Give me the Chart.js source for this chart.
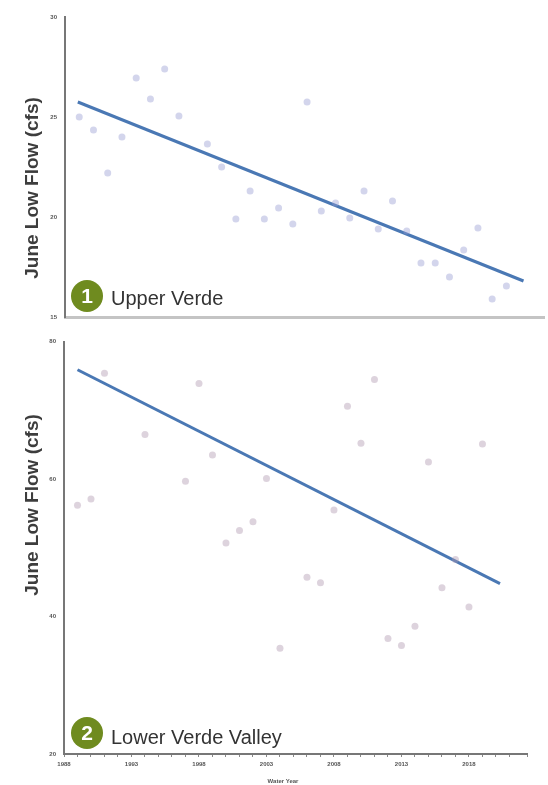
<!DOCTYPE html>
<html>
<head>
<meta charset="utf-8">
<script src="https://cdn.jsdelivr.net/npm/chart.js@4/dist/chart.umd.min.js"></script>
<style>
  body { margin: 0; background: #fff; }
  #wrap { position: relative; width: 548px; height: 785px; }
  #upper { position: absolute; left: 0; top: 0; }
  #lower { position: absolute; left: 0; top: 330px; }
</style>
</head>
<body>
<div id="wrap">
  <canvas id="upper" width="548" height="330"></canvas>
  <canvas id="lower" width="548" height="455"></canvas>
</div>
<script>
// Upper Verde, June low flow (cfs)
const upperYears = [1989, 1990, 1991, 1992, 1993, 1994, 1995, 1996, 1998, 1999,
  2000, 2001, 2002, 2003, 2004, 2005, 2006, 2007, 2008, 2009,
  2010, 2011, 2012, 2013, 2014, 2015, 2016, 2017, 2018, 2019];
const upperFlow = [25.0, 24.35, 22.2, 24.0, 26.95, 25.9, 27.4, 25.05, 23.65, 22.5,
  19.9, 21.3, 19.9, 20.45, 19.65, 25.75, 20.3, 20.7, 19.95, 21.3,
  19.4, 20.8, 19.3, 17.7, 17.7, 17.0, 18.35, 19.45, 15.9, 16.55];
const upperTrendYears = [1988.9, 2020.2];
const upperTrendFlow = [25.75, 16.8];

// Lower Verde Valley, June low flow (cfs)
const lowerYears = [1989, 1990, 1991, 1994, 1997, 1998, 1999, 2000, 2001, 2002,
  2003, 2004, 2006, 2007, 2008, 2009, 2010, 2011, 2012, 2013,
  2014, 2015, 2016, 2017, 2018, 2019];
const lowerFlow = [56.2, 57.1, 75.4, 66.5, 59.7, 73.9, 63.5, 50.7, 52.5, 53.8,
  60.1, 35.4, 45.7, 44.9, 55.5, 70.6, 65.2, 74.5, 36.8, 35.8,
  38.6, 62.5, 44.2, 48.3, 41.4, 65.1];
const lowerTrendYears = [1989.0, 2020.3];
const lowerTrendFlow = [75.9, 44.8];

const yTitle = "June Low Flow (cfs)";
const FONT = '"Liberation Sans", Arial, Helvetica, sans-serif';

function pts(xs, ys) {
  return xs.map((x, i) => ({ x: x, y: ys[i] }));
}

// badge, panel name and rotated axis title
function labelsPlugin(num, name, badgeY, textY, titleY) {
  return {
    id: "labels" + num,
    afterDraw(chart) {
      const ctx = chart.ctx;
      ctx.save();
      ctx.fillStyle = "#6f8b1f";
      ctx.beginPath();
      ctx.arc(87, badgeY, 16, 0, Math.PI * 2);
      ctx.fill();
      ctx.fillStyle = "#fff";
      ctx.font = "bold 21px " + FONT;
      ctx.textAlign = "center";
      ctx.textBaseline = "middle";
      ctx.fillText(num, 87, badgeY + 1);
      ctx.fillStyle = "#333";
      ctx.font = "20px " + FONT;
      ctx.textAlign = "left";
      ctx.textBaseline = "alphabetic";
      ctx.fillText(name, 111, textY);

      ctx.translate(33, titleY);
      ctx.rotate(-Math.PI / 2);
      ctx.font = "bold 19px " + FONT;
      ctx.textAlign = "center";
      ctx.textBaseline = "middle";
      ctx.fillStyle = "#3d3d3d";
      ctx.fillText(yTitle, 0, 0);
      ctx.restore();
    }
  };
}

const waterYear = {
  id: "waterYear",
  afterDraw(chart) {
    const ctx = chart.ctx;
    ctx.save();
    ctx.font = "bold 6px " + FONT;
    ctx.fillStyle = "#555";
    ctx.textAlign = "center";
    ctx.textBaseline = "middle";
    ctx.fillText("Water Year", 283, 451);
    ctx.restore();
  }
};

new Chart(document.getElementById("upper"), {
  type: "scatter",
  data: {
    datasets: [
      {
        data: pts(upperYears, upperFlow),
        backgroundColor: "rgba(150,155,210,0.42)",
        borderWidth: 0,
        pointRadius: 3.5
      },
      {
        type: "line",
        data: pts(upperTrendYears, upperTrendFlow),
        borderColor: "#4a78b4",
        borderWidth: 3,
        pointRadius: 0,
        fill: false
      }
    ]
  },
  options: {
    responsive: false,
    animation: false,
    layout: { padding: { top: 17, right: 3, left: 0, bottom: 0 } },
    plugins: { legend: { display: false }, tooltip: { enabled: false } },
    scales: {
      x: {
        type: "linear",
        min: 1988,
        max: 2021.64,
        afterFit(s) { s.height = 13; },
        grid: { display: false },
        border: { color: "#c4c4c4", width: 3 },
        ticks: { display: false }
      },
      y: {
        min: 15,
        max: 30,
        afterFit(s) { s.width = 65; },
        grid: { display: false, drawTicks: false },
        border: { color: "#777", width: 2 },
        ticks: {
          stepSize: 5,
          padding: 8,
          color: "#555",
          font: { size: 6, weight: "bold", family: FONT }
        }
      }
    }
  },
  plugins: [labelsPlugin("1", "Upper Verde", 296, 305, 188)]
});

new Chart(document.getElementById("lower"), {
  type: "scatter",
  data: {
    datasets: [
      {
        data: pts(lowerYears, lowerFlow),
        backgroundColor: "rgba(175,150,175,0.42)",
        borderWidth: 0,
        pointRadius: 3.5
      },
      {
        type: "line",
        data: pts(lowerTrendYears, lowerTrendFlow),
        borderColor: "#4a78b4",
        borderWidth: 3,
        pointRadius: 0,
        fill: false
      }
    ]
  },
  options: {
    responsive: false,
    animation: false,
    layout: { padding: { top: 10, right: 21, left: 0, bottom: 0 } },
    plugins: { legend: { display: false }, tooltip: { enabled: false } },
    scales: {
      x: {
        type: "linear",
        min: 1988,
        max: 2022.3,
        afterFit(s) { s.height = 31; },
        grid: { drawOnChartArea: false, tickLength: 3, color: "#888" },
        border: { color: "#777", width: 2 },
        ticks: {
          stepSize: 1,
          padding: 4,
          autoSkip: false,
          maxRotation: 0,
          color: "#555",
          font: { size: 6, weight: "bold", family: FONT },
          callback: v => ((v - 1988) % 5 === 0 ? String(v) : "")
        }
      },
      y: {
        min: 20,
        max: 80,
        afterFit(s) { s.width = 64; },
        grid: { display: false, drawTicks: false },
        border: { color: "#777", width: 2 },
        ticks: {
          stepSize: 20,
          padding: 8,
          color: "#555",
          font: { size: 6, weight: "bold", family: FONT }
        }
      }
    }
  },
  plugins: [labelsPlugin("2", "Lower Verde Valley", 403, 414, 175), waterYear]
});
</script>
</body>
</html>
